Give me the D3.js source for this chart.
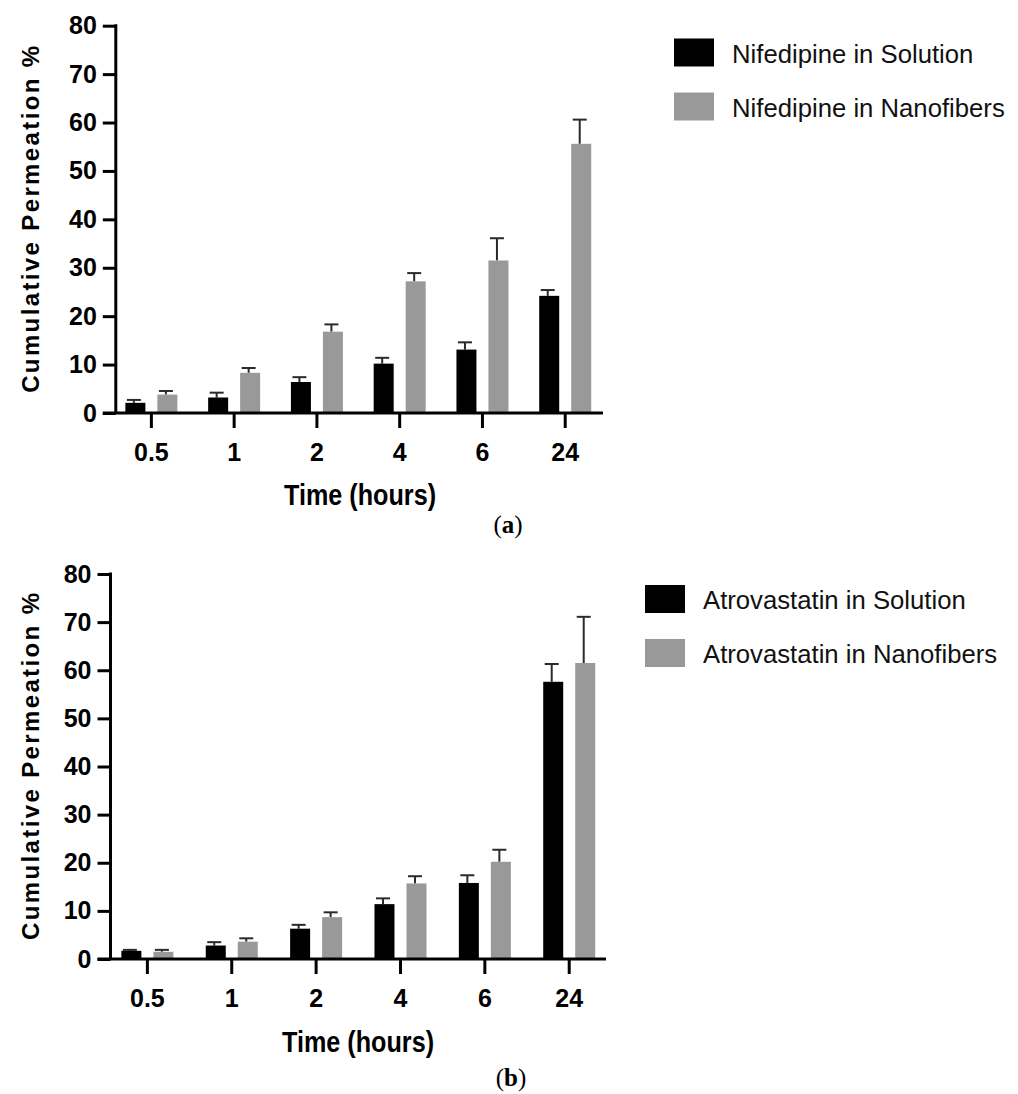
<!DOCTYPE html>
<html lang="en">
<head>
<meta charset="UTF-8">
<title>Cumulative Permeation</title>
<style>
  body { margin: 0; background: #fff; }
  .axis .domain { stroke: #000; stroke-width: 3; }
  .axis line { stroke: #000; stroke-width: 3; }
  .axis text { font-family: "Liberation Sans", Arial, sans-serif; font-weight: bold; font-size: 25px; fill: #000; }
</style>
</head>
<body>
<svg width="1018" height="1094"></svg>
<script src="https://d3js.org/d3.v7.min.js"></script>
<script>
// data
var times = ["0.5", "1", "2", "4", "6", "24"];
var yTicks = [0, 10, 20, 30, 40, 50, 60, 70, 80];

var nifSolution    = [2.1, 3.2, 6.4, 10.2, 13.1, 24.2];
var nifSolutionErr = [0.6, 1.0, 1.0, 1.2, 1.5, 1.2];
var nifNano        = [3.8, 8.3, 16.8, 27.2, 31.5, 55.6];
var nifNanoErr     = [0.75, 1.0, 1.5, 1.7, 4.6, 5.0];

var atrSolution    = [1.7, 2.8, 6.3, 11.4, 15.8, 57.6];
var atrSolutionErr = [0.2, 0.7, 0.8, 1.2, 1.6, 3.7];
var atrNano        = [1.5, 3.6, 8.7, 15.7, 20.2, 61.5];
var atrNanoErr     = [0.4, 0.7, 1.0, 1.5, 2.5, 9.6];

var keys = ["solution", "nano"];
var colors = {solution: "#000000", nano: "#999999"};

var svg = d3.select("svg");

function drawPanel(p) {
    var g = svg.append("g");

    var pad = 1 - 52 / ((p.band[1] - p.band[0]) / times.length);  // group of two bars is ~52px wide
    var x0 = d3.scaleBand()
        .domain(times)
        .range(p.band)
        .paddingInner(pad)
        .paddingOuter(pad / 2);

    var x1 = d3.scaleBand()
        .domain(keys)
        .range([0, x0.bandwidth()])
        .paddingInner(0.375);

    var y = d3.scaleLinear().domain([0, 80]).range([p.y0, p.y80]);

    var rows = times.map(function(t, i) {
        return {t: t, vals: [
            {key: "solution", v: p.sol[i], e: p.solErr[i]},
            {key: "nano", v: p.nano[i], e: p.nanoErr[i]}
        ]};
    });

    var groups = g.append("g").selectAll("g")
        .data(rows)
        .enter().append("g")
        .attr("transform", function(d) { return "translate(" + x0(d.t) + ",0)"; });

    // error bars, upper half only
    var err = groups.selectAll("g.err")
        .data(function(d) { return d.vals; })
        .enter().append("g").attr("class", "err")
        .attr("stroke", "#2a2a2a").attr("stroke-width", 2);
    err.append("line")
        .attr("x1", function(d) { return x1(d.key) + x1.bandwidth() / 2 - 1.5; })
        .attr("x2", function(d) { return x1(d.key) + x1.bandwidth() / 2 - 1.5; })
        .attr("y1", function(d) { return y(d.v); })
        .attr("y2", function(d) { return y(d.v + d.e); });
    err.append("line")
        .attr("x1", function(d) { return x1(d.key) + x1.bandwidth() / 2 - 8.5; })
        .attr("x2", function(d) { return x1(d.key) + x1.bandwidth() / 2 + 5.5; })
        .attr("y1", function(d) { return y(d.v + d.e); })
        .attr("y2", function(d) { return y(d.v + d.e); });

    groups.selectAll("rect")
        .data(function(d) { return d.vals; })
        .enter().append("rect")
        .attr("x", function(d) { return x1(d.key); })
        .attr("y", function(d) { return y(d.v); })
        .attr("width", x1.bandwidth())
        .attr("height", function(d) { return y(0) - y(d.v); })
        .attr("fill", function(d) { return colors[d.key]; });

    // y axis
    var yAxis = g.append("g")
        .attr("class", "axis")
        .attr("transform", "translate(" + p.yAxisX + ",0)")
        .call(d3.axisLeft(y).tickValues(yTicks).tickSize(13).tickSizeOuter(0).tickPadding(6));
    yAxis.select(".domain").remove();
    yAxis.append("line")
        .attr("x1", 0).attr("x2", 0)
        .attr("y1", y(80) - 1.5).attr("y2", y(0));

    // x axis
    var xAxis = g.append("g")
        .attr("class", "axis")
        .attr("transform", "translate(0," + y(0) + ")")
        .call(d3.axisBottom(x0).tickSize(15).tickSizeOuter(0));
    xAxis.select(".domain").remove();
    xAxis.append("line")
        .attr("x1", p.yAxisX - 13).attr("x2", p.xEnd)
        .attr("y1", 0).attr("y2", 0);
    xAxis.selectAll(".tick text").attr("y", 48).attr("dy", null);

    // axis titles
    g.append("text")
        .attr("transform", "translate(" + 39 + "," + (p.y0 + p.y80) / 2 + ") rotate(-90)")
        .attr("text-anchor", "middle")
        .attr("font-family", "Liberation Sans, Arial, sans-serif")
        .attr("font-weight", "bold")
        .attr("font-size", 24)
        .attr("textLength", 347)
        .attr("lengthAdjust", "spacing")
        .text("Cumulative Permeation %");

    g.append("text")
        .attr("transform", "translate(" + p.xTitleX + "," + p.xTitleY + ") scale(0.84,1)")
        .attr("text-anchor", "middle")
        .attr("font-family", "Liberation Sans, Arial, sans-serif")
        .attr("font-weight", "bold")
        .attr("font-size", 30)
        .text("Time (hours)");

    // legend
    var legend = g.append("g")
        .selectAll("g")
        .data(keys)
        .enter().append("g")
        .attr("transform", function(d, i) { return "translate(" + p.legX + "," + (p.legY + i * 54) + ")"; });
    legend.append("rect")
        .attr("width", 40).attr("height", 28)
        .attr("fill", function(d) { return colors[d]; });
    legend.append("text")
        .attr("x", 58).attr("y", 24)
        .attr("font-family", "Liberation Sans, Arial, sans-serif")
        .attr("font-size", 25.7)
        .attr("fill", "#111")
        .text(function(d, i) { return p.labels[i]; });

    // caption
    var cap = g.append("text")
        .attr("x", p.capX).attr("y", p.capY)
        .attr("text-anchor", "middle")
        .attr("font-family", "Liberation Serif, serif")
        .attr("font-size", 25);
    cap.append("tspan").text("(");
    cap.append("tspan").attr("font-weight", "bold").text(p.letter);
    cap.append("tspan").text(")");
}

drawPanel({
    sol: nifSolution, solErr: nifSolutionErr, nano: nifNano, nanoErr: nifNanoErr,
    labels: ["Nifedipine in Solution", "Nifedipine in Nanofibers"],
    band: [110, 606.6], y0: 413, y80: 25.7, yAxisX: 115.8, xEnd: 603,
    xTitleX: 360, xTitleY: 505, legX: 674, legY: 38.5, capX: 508, capY: 533, letter: "a"
});

drawPanel({
    sol: atrSolution, solErr: atrSolutionErr, nano: atrNano, nanoErr: atrNanoErr,
    labels: ["Atrovastatin in Solution", "Atrovastatin in Nanofibers"],
    band: [105.2, 611.4], y0: 959, y80: 574, yAxisX: 110.5, xEnd: 606,
    xTitleX: 358, xTitleY: 1052, legX: 645, legY: 585, capX: 511, capY: 1086, letter: "b"
});
</script>
</body>
</html>
